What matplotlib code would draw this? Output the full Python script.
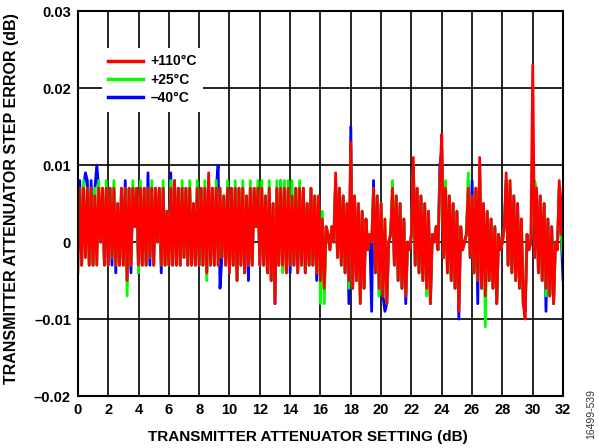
import numpy as np
import matplotlib.pyplot as plt

plt.rcParams['font.family'] = ['Liberation Sans', 'DejaVu Sans']
plt.rcParams['font.weight'] = 'bold'

# step error in milli-dB, every 0.125 dB (one row = 2 dB)
err_110 = [
    -4, 7, -3, 7, -2, 7, -3, 7, -3, 6, -3, 7, 0, 7, -3, 7,
    -3, 7, -2, 7, -3, 5, -3, 7, -3, 7, -5, 7, -3, 7, 2, 7,
    -3, 7, -3, 7, -3, 7, -2, 7, -3, 7, 0, 7, -3, 7, -3, 4,
    -3, 7, -3, 8, -3, 7, -3, 7, -2, 7, -3, 7, -3, 5, -3, 7,
    -3, 7, -3, 7, -4, 9, -3, 7, -3, 7, -3, 7, -2, 6, -3, 7,
    -4, 7, -3, 7, -5, 7, -3, 7, -4, 6, -3, 7, -3, 7, 2, 7,
    -3, 7, -3, 6, -4, 7, -5, 5, -8, 7, -3, 7, -3, 7, -4, 7,
    -3, 6, -3, 7, -4, 7, -3, 7, -4, 5, -3, 7, -3, 6, -4, 6,
    -5, 3, -6, 2, 1, -1, 2, 0, 9, -2, 7, -3, 6, -4, 5, -5,
    13, -6, 6, -5, 5, -8, 4, -6, 3, -1, 1, 0, 7, -4, 6, -6,
    5, -7, 3, -8, 0, 1, 7, -3, 6, -5, 5, -6, 3, -7, 0, -1,
    1, 11, -3, 7, -4, 6, -5, 5, -6, 4, -8, 1, 0, 2, -1, 8,
    14, -2, 7, -4, 6, -5, 5, -6, 4, -9, 2, -1, 0, 1, 7, -2,
    6, -4, 7, -5, 11, -6, 5, -7, 4, -5, 3, -6, 2, -8, 1, -1,
    0, 2, 9, -3, 8, -4, 6, -5, 5, -6, 3, -8, -10, 1, -1, 0,
    23, -2, 7, -4, 6, -5, 5, -6, 3, -7, 2, -8, 0, -1, 8, 1,
    7,
]
err_25 = [
    0, 7, -3, 8, -2, 7, -3, 7, -3, 7, -3, 8, 0, 7, -3, 8,
    -3, 7, -2, 8, -3, 5, -3, 7, -3, 7, -7, 7, -3, 8, 2, 7,
    -4, 8, -3, 7, -3, 7, -2, 8, -3, 7, 0, 7, -3, 8, -3, 4,
    -3, 8, -3, 8, -3, 7, -3, 8, -2, 7, -3, 8, -3, 5, -3, 8,
    -3, 7, -3, 8, -5, 8, -3, 7, -3, 8, -3, 7, -2, 6, -3, 8,
    -4, 7, -3, 8, -5, 7, -3, 8, -4, 6, -3, 8, -3, 7, 2, 8,
    -3, 8, -3, 6, -4, 8, -5, 5, -7, 8, -3, 8, -4, 8, -4, 8,
    -3, 8, -3, 7, -4, 8, -3, 7, -4, 5, -3, 7, -3, 6, -4, 6,
    -8, 4, -8, 2, 1, -1, 2, 0, 8, -2, 7, -3, 6, -4, 5, -6,
    12, -6, 6, -5, 5, -8, 4, -6, 3, -1, 1, 0, 7, -4, 6, -7,
    5, -7, 3, -8, 0, 1, 8, -3, 6, -5, 5, -6, 3, -7, 0, -1,
    1, 10, -3, 7, -4, 6, -5, 5, -7, 4, -8, 1, 0, 2, -1, 8,
    12, -2, 8, -4, 6, -5, 5, -6, 4, -8, 2, -1, 0, 1, 9, -2,
    6, -4, 7, -5, 10, -6, 5, -11, 4, -5, 3, -6, 2, -8, 1, -1,
    0, 2, 8, -3, 8, -4, 6, -5, 5, -6, 3, -8, -8, 1, -1, 0,
    8, 8, 7, -4, 6, -5, 5, -7, 3, -7, 2, -8, 0, -1, 7, 1,
    -2,
]
err_m40 = [
    0, 8, -3, 7, 9, 8, -3, 8, -3, 7, 10, 7, 0, 7, -3, 7,
    -3, 7, -3, 7, -4, 5, -3, 7, -3, 8, -5, 7, -4, 7, 2, 7,
    -4, 7, -3, 7, -3, 9, -3, 7, -3, 7, 0, 7, -4, 7, -3, 4,
    -3, 9, -3, 8, -3, 7, -3, 7, -2, 7, -3, 7, -3, 5, -3, 7,
    -3, 7, -3, 7, -4, 8, -3, 7, -3, 7, 10, -6, -2, 6, -3, 7,
    -4, 7, -3, 7, -5, 7, -3, 7, -4, 6, -5, 7, -3, 7, 2, 7,
    -3, 7, -3, 6, -4, 7, -5, 5, -8, 7, -3, 8, -3, 7, -4, 7,
    -4, 6, -3, 7, -4, 7, -3, 7, -4, 5, -3, 7, -3, 6, -5, 6,
    -6, 3, -6, 2, 1, -1, 2, 0, 8, -2, 7, -3, 6, -4, 5, -8,
    15, -6, 6, -5, 5, -7, 4, -6, 3, -1, 1, -9, 8, -4, 6, -7,
    5, -7, -9, -8, 0, 1, 6, -3, 6, -5, 5, -6, 3, -8, 0, -1,
    1, 10, -3, 7, -4, 6, -5, 5, -6, 4, -8, 1, 0, 2, -1, 10,
    12, -2, 7, -4, 6, -5, 5, -6, 4, -10, 2, -1, 0, 1, 7, -2,
    8, -4, 7, -8, 10, -6, 5, -7, 4, -5, 3, -6, 2, -8, 1, -1,
    0, 2, 8, -3, 7, -4, 6, -5, 5, -6, 3, -8, -9, 1, -1, 0,
    6, -2, 7, -4, 6, -5, 5, -9, 3, -7, 2, -8, 0, -1, 7, 1,
    -5,
]
setting = np.linspace(0, 32, len(err_110))

fig = plt.figure(figsize=(5.99, 4.48), dpi=100)
ax = fig.add_axes([0.130, 0.116, 0.810, 0.859])

l_blue, = ax.plot(setting, np.array(err_m40) / 1000, color='#0000FF', lw=2.0)
l_green, = ax.plot(setting, np.array(err_25) / 1000, color='#00FF00', lw=2.0)
l_red, = ax.plot(setting, np.array(err_110) / 1000, color='#FF0000', lw=2.0)

ax.set_xlim(0, 32)
ax.set_ylim(-0.02, 0.03)
ax.set_xticks(np.arange(0, 33, 2))
ax.set_yticks([-0.02, -0.01, 0, 0.01, 0.02, 0.03])
ax.set_yticklabels(['–0.02', '–0.01', '0', '0.01', '0.02', '0.03'])
ax.tick_params(length=0, labelsize=10.5, pad=5)
ax.grid(True, color='black', lw=1.2)
ax.set_axisbelow(True)
for s in ax.spines.values():
    s.set_linewidth(1.5)

ax.set_xlabel('TRANSMITTER ATTENUATOR SETTING (dB)', fontsize=11, fontweight='bold')
ax.set_ylabel('TRANSMITTER ATTENUATOR STEP ERROR (dB)', fontsize=11.5, fontweight='bold')
ax.xaxis.set_label_coords(0.474, -0.088)
ax.yaxis.set_label_coords(-0.122, 0.512)

leg = ax.legend([l_red, l_green, l_blue], ['+110°C', '+25°C', '–40°C'],
                loc='upper left', bbox_to_anchor=(0.035, 0.922), fontsize=10,
                frameon=True, fancybox=False, edgecolor='none', framealpha=1,
                handlelength=2.5, handletextpad=0.55, labelspacing=0.32, borderpad=0.45)
for h in leg.get_lines():
    h.set_linewidth(2.5)

fig.text(0.987, 0.075, '16499-539', rotation=90, fontsize=7.5, fontweight='normal',
         color='#333333', ha='center', va='center')

fig.savefig('out.png', dpi=100)
